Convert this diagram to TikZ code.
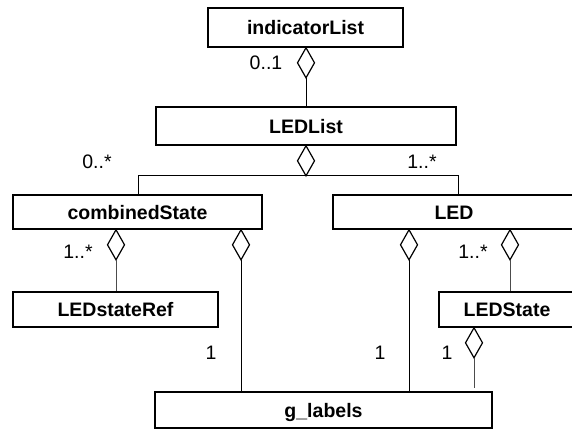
\documentclass[tikz,border=0pt]{standalone}
\usepackage{fontspec}
\setmainfont{Liberation Sans}
\usetikzlibrary{shapes.geometric}
\tikzset{
  cls/.style={draw, line width=1.6pt, rectangle, inner sep=0pt,
    font=\fontsize{19.5}{20}\selectfont\bfseries, text height=14pt, text depth=0pt},
  agg/.style={draw, line width=1.2pt, diamond, inner sep=0pt, outer sep=0pt,
    minimum width=17pt, minimum height=30pt, fill=white},
  mult/.style={inner sep=0pt, font=\fontsize{19.5}{20}\selectfont,
    text height=14pt, text depth=0pt},
  link/.style={line width=1pt, black},
  glink/.style={line width=1pt, black!70}
}
\begin{document}
\begin{tikzpicture}[x=1pt, y=-1pt]
  \useasboundingbox (0,0) rectangle (572,429);

  % classes
  \node[cls, minimum width=195pt, minimum height=39pt] (indicatorList) at (305.5,27.5) {indicatorList};
  \node[cls, minimum width=300pt, minimum height=38pt] (LEDList) at (306,126) {LEDList};
  \node[cls, minimum width=249pt, minimum height=34pt] (combinedState) at (137.5,212) {combinedState};
  \node[cls, minimum width=242pt, minimum height=34pt] (LED) at (454,212) {LED};
  \node[cls, minimum width=205pt, minimum height=35pt] (LEDstateRef) at (115.5,309.5) {LEDstateRef};
  \node[cls, minimum width=136pt, minimum height=35pt] (LEDState) at (507,309.5) {LEDState};
  \node[cls, minimum width=337pt, minimum height=36pt] (g_labels) at (323.5,410) {g\_labels};

  % aggregation diamonds
  \node[agg, anchor=north] (dInd) at (indicatorList.south -| 306,0) {};
  \node[agg, anchor=north] (dList) at (LEDList.south -| 306,0) {};
  \node[agg, anchor=north] (dCsRef) at (combinedState.south -| 116,0) {};
  \node[agg, anchor=north] (dCsLab) at (combinedState.south -| 241,0) {};
  \node[agg, anchor=north] (dLedLab) at (LED.south -| 409,0) {};
  \node[agg, anchor=north] (dLedSt) at (LED.south -| 510,0) {};
  \node[agg, anchor=north] (dStLab) at (LEDState.south -| 474,0) {};

  % connectors
  \draw[link] (dInd.south) -- (dInd.south |- LEDList.north);
  \coordinate (busL) at (dList.south -| 138,0);
  \coordinate (busR) at (dList.south -| 458,0);
  \draw[link] (combinedState.north -| busL) -- (busL) -- (busR) -- (LED.north -| busR);
  \draw[glink] (dCsRef.south) -- (dCsRef.south |- LEDstateRef.north);
  \draw[link] (dCsLab.south) -- (dCsLab.south |- g_labels.north);
  \draw[link] (dLedLab.south) -- (dLedLab.south |- g_labels.north);
  \draw[glink] (dLedSt.south) -- (dLedSt.south |- LEDState.north);
  \coordinate (stEnd) at (474,388);
  \draw[glink] (dStLab.south) -- (stEnd);

  % multiplicities
  \node[mult] (m01) at (266,62) {0..1};
  \node[mult] (m0s) at (97,161) {0..*};
  \node[mult] (m1sA) at (422,161) {1..*};
  \node[mult] (m1sB) at (78,251) {1..*};
  \node[mult] (m1sC) at (473,251) {1..*};
  \node[mult] (m1A) at (211,352) {1};
  \node[mult] (m1B) at (380,352) {1};
  \node[mult] (m1C) at (447,352) {1};
\end{tikzpicture}
\end{document}
